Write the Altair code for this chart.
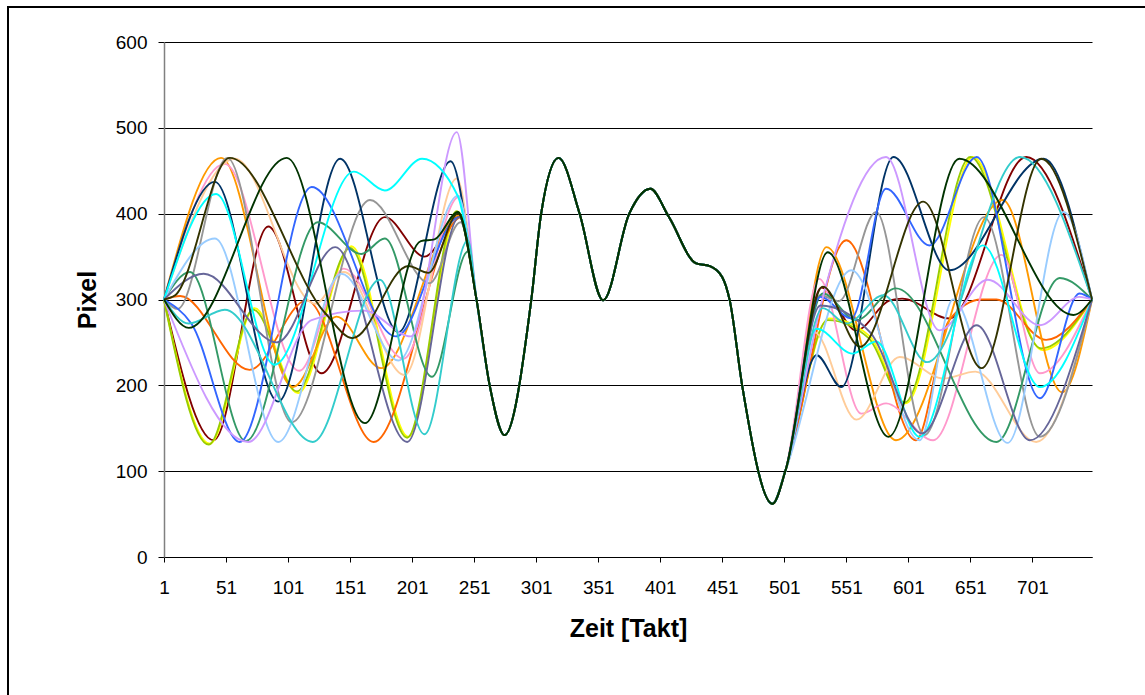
import altair as alt
import pandas as pd

# ---- shared middle section (all series coincide here) ----
shared_x = [253, 263.5, 275.5, 297, 305, 319, 336, 355, 376, 393, 408, 430, 441, 451, 457, 467, 491.5, 502]
shared_y = [299, 200, 142, 299, 400, 465, 400, 299, 400, 429, 396, 342, 339, 326, 299, 200, 62, 101]

# ---- individual series: (x, y) key points ----
r1_left = [(1, 300), (41, 136), (85, 385), (128, 214), (179, 396), (211, 350), (240, 398)]
r1_right = [(531, 314), (559, 264), (586, 299), (596, 301), (634, 278), (696, 466), (749, 300)]

r2_left = [(1, 300), (38, 132), (74, 290), (109, 191), (152, 362), (198, 140), (238, 402)]
r2_right = [(537, 278), (570, 257), (599, 179), (653, 466), (709, 241), (749, 300)]

r3_left = [(1, 300), (37, 131), (73, 288), (108, 193), (151, 360), (197, 139), (237, 403)]
r3_right = [(536, 276), (569, 255), (598, 180), (651, 466), (708, 243), (749, 300)]

r4_left = [(1, 300), (14, 304), (70, 218), (116, 299), (170, 134), (241, 396)]
r4_right = [(551, 369), (607, 136), (634, 276), (660, 300), (672, 300), (712, 253), (749, 300)]

r5_left = [(1, 300), (47, 465), (105, 198), (140, 280), (176, 220), (239, 398)]
r5_right = [(535, 361), (591, 136), (677, 416), (725, 192), (749, 300)]

r6_left = [(1, 300), (50, 458), (110, 217), (146, 336), (194, 231), (239, 420)]
r6_right = [(529, 324), (563, 167), (583, 179), (621, 136), (676, 352), (707, 214), (749, 300)]

r7_left = [(1, 300), (58, 464), (123, 295), (146, 332), (195, 212), (237, 441)]
r7_right = [(525, 262), (559, 160), (594, 233), (629, 208), (655, 216), (704, 134), (749, 300)]

r8_left = [(1, 300), (12, 289), (52, 465), (104, 157), (167, 416), (215, 319), (240, 390)]
r8_right = [(530, 305), (545, 298), (575, 402), (614, 142), (662, 396), (707, 140), (749, 300)]

r9_left = [(1, 300), (42, 437), (93, 181), (143, 464), (190, 262), (232, 461)]
r9_right = [(527, 235), (547, 198), (589, 466), (634, 334), (710, 464), (749, 300)]

r10_left = [(1, 300), (22, 332), (67, 135), (125, 390), (160, 353), (179, 371), (217, 210), (246, 356)]
r10_right = [(532, 307), (559, 276), (591, 313), (672, 134), (723, 325), (749, 300)]

r11_left = [(1, 300), (23, 272), (62, 134), (120, 431), (188, 257), (239, 396)]
r11_right = [(530, 303), (555, 278), (583, 429), (618, 363), (656, 466), (707, 185), (739, 307), (749, 300)]

r12_left = [(1, 300), (42, 371), (93, 134), (144, 330), (190, 229), (238, 421)]
r12_right = [(555, 334), (610, 136), (637, 300), (681, 133), (726, 402), (749, 300)]

r13_left = [(1, 300), (69, 134), (120, 276), (162, 287), (200, 257), (237, 495)]
r13_right = [(530, 291), (583, 466), (626, 264), (665, 323), (707, 270), (739, 303), (749, 300)]

r14_left = [(1, 300), (43, 423), (90, 224), (154, 449), (179, 427), (209, 464), (238, 420)]
r14_right = [(527, 266), (556, 237), (575, 251), (610, 140), (661, 363), (707, 198), (749, 300)]

r15_left = [(1, 300), (33, 330), (92, 250), (139, 361), (197, 134), (239, 396)]
r15_right = [(530, 293), (570, 262), (612, 144), (656, 270), (699, 136), (749, 300)]

r16_left = [(1, 300), (21, 272), (50, 288), (121, 134), (175, 323), (211, 143), (246, 369)]
r16_right = [(532, 290), (551, 272), (581, 305), (616, 227), (691, 466), (749, 300)]

r17_left = [(1, 300), (10, 305), (54, 465), (131, 284), (153, 255), (198, 339), (214, 331), (238, 400)]
r17_right = [(532, 315), (562, 245), (613, 414), (660, 220), (708, 464), (749, 300)]

r18_left = [(1, 300), (21, 267), (100, 465), (163, 156), (208, 368), (219, 370), (238, 402)]
r18_right = [(536, 355), (585, 140), (642, 464), (734, 282), (749, 300)]

series_names = ["Reihe1", "Reihe2", "Reihe3", "Reihe4", "Reihe5", "Reihe6", "Reihe7", "Reihe8", "Reihe9",
                "Reihe10", "Reihe11", "Reihe12", "Reihe13", "Reihe14", "Reihe15", "Reihe16", "Reihe17", "Reihe18"]
series_colors = ["#800000", "#FFFF00", "#99CC00", "#FF6600", "#FF9900", "#FF99CC", "#FFCC99", "#969696", "#003366",
                 "#339966", "#3366FF", "#99CCFF", "#CC99FF", "#00FFFF", "#666699", "#33CCCC", "#333300", "#003300"]
series_left = [r1_left, r2_left, r3_left, r4_left, r5_left, r6_left, r7_left, r8_left, r9_left,
               r10_left, r11_left, r12_left, r13_left, r14_left, r15_left, r16_left, r17_left, r18_left]
series_right = [r1_right, r2_right, r3_right, r4_right, r5_right, r6_right, r7_right, r8_right, r9_right,
                r10_right, r11_right, r12_right, r13_right, r14_right, r15_right, r16_right, r17_right, r18_right]

x_ticks = [1, 51, 101, 151, 201, 251, 301, 351, 401, 451, 501, 551, 601, 651, 701]
y_ticks = [0, 100, 200, 300, 400, 500, 600]

rows = []
for name, left, right in zip(series_names, series_left, series_right):
    pts = left + list(zip(shared_x, shared_y)) + right
    for x, y in pts:
        rows.append({"series": name, "x": x, "y": y})
df = pd.DataFrame(rows)

FONT = "Liberation Sans"

lines = alt.Chart(df).mark_line(interpolate="monotone", strokeWidth=1.9).encode(
    x=alt.X("x:Q",
            scale=alt.Scale(domain=[1, 749], nice=False, zero=False),
            axis=alt.Axis(values=x_ticks, title="Zeit [Takt]", grid=False,
                          domainColor="black", domainWidth=1, tickColor="black", tickSize=5, tickWidth=1,
                          labelFont=FONT, labelFontSize=19, labelColor="black", labelPadding=16,
                          labelFlush=False, labelOverlap=False,
                          titleFont=FONT, titleFontSize=25, titleFontWeight="bold", titleColor="black",
                          titleX=464, titleY=71, titleBaseline="middle", titleAlign="center")),
    y=alt.Y("y:Q",
            scale=alt.Scale(domain=[0, 600], nice=False),
            axis=alt.Axis(values=y_ticks, title="Pixel", grid=True, gridColor="black", gridWidth=1,
                          gridOpacity=1,
                          domainColor="#808080", domainWidth=1.5, tickColor="black", tickSize=6, tickWidth=1,
                          labelFont=FONT, labelFontSize=19, labelColor="black", labelPadding=11,
                          titleFont=FONT, titleFontSize=25, titleFontWeight="bold", titleColor="black",
                          titleX=-77, titleY=257.5, titleAngle=270, titleBaseline="middle",
                          titleAlign="center")),
    color=alt.Color("series:N", scale=alt.Scale(domain=series_names, range=series_colors), legend=None),
)

frame_data = alt.Data(values=[{"k": 1}])
left_border = alt.Chart(frame_data).mark_rule(color="black", strokeWidth=2).encode(
    x=alt.value(-156), y=alt.value(-36), y2=alt.value(700))
top_border = alt.Chart(frame_data).mark_rule(color="black", strokeWidth=2).encode(
    x=alt.value(-157), x2=alt.value(1100), y=alt.value(-35))

chart = alt.layer(lines, left_border, top_border).properties(
    width=928, height=515,
    padding={"left": 164, "top": 42, "right": 53, "bottom": 138},
    autosize=alt.AutoSizeParams(type="none"),
    background="white",
).configure_view(stroke=None)

chart.save("out.html", embed_options={"renderer": "svg", "actions": False})
